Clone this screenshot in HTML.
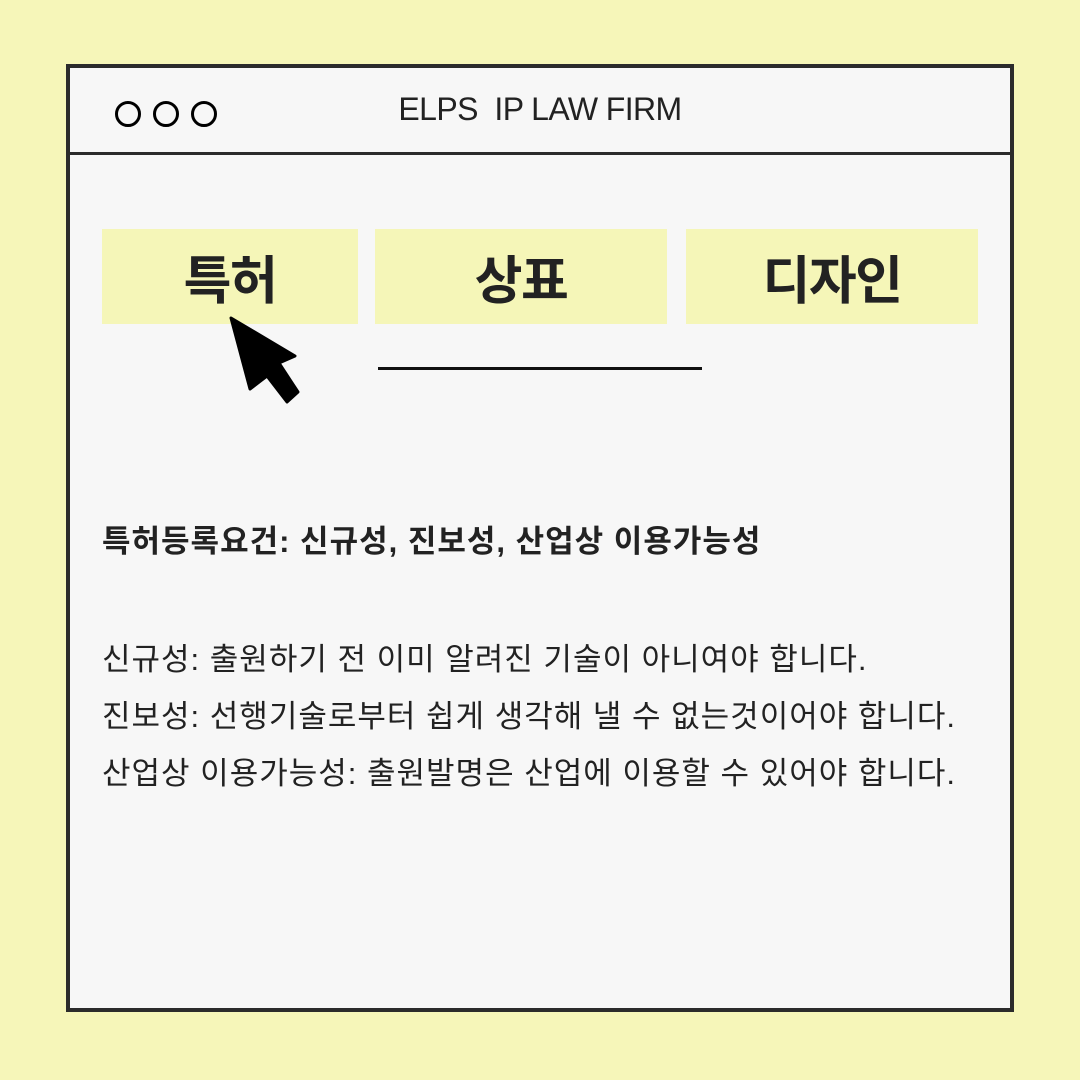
<!DOCTYPE html>
<html><head><meta charset="utf-8"><style>
html,body{margin:0;padding:0}
body{width:1080px;height:1080px;background:#f6f6b9;position:relative;overflow:hidden;font-family:"Liberation Sans","Noto Sans CJK KR",sans-serif;color:#222}
.win{position:absolute;left:66px;top:64px;width:940px;height:940px;border:4px solid #2b2b2b;background:#f7f7f7}
.hdr{position:absolute;left:0;top:0;width:940px;height:84px;border-bottom:3px solid #2b2b2b}
.c{position:absolute;top:33px;width:20px;height:20px;border:3.5px solid #000;border-radius:50%}
.title{position:absolute;left:0;width:940px;top:23px;text-align:center;font-size:32px;letter-spacing:-0.6px;color:#222}
.tab{position:absolute;top:229px;height:95px;background:#f5f6b8;font-weight:bold;font-size:52px;display:flex;align-items:center;justify-content:center;letter-spacing:-1.5px;color:#222}
.t{position:absolute;left:102px;font-size:31px;letter-spacing:1px;white-space:nowrap;color:#222}
</style></head><body>
<div class="win">
 <div class="hdr">
  <div class="c" style="left:45px"></div>
  <div class="c" style="left:83px"></div>
  <div class="c" style="left:121px"></div>
  <div class="title">ELPS&nbsp; IP LAW FIRM</div>
 </div>
</div>
<div class="tab" style="left:102px;width:256px">특허</div>
<div class="tab" style="left:375px;width:292px">상표</div>
<div class="tab" style="left:686px;width:292px">디자인</div>
<div style="position:absolute;left:378px;top:367px;width:324px;height:3px;background:#111"></div>
<svg style="position:absolute;left:0;top:0" width="1080" height="1080"><polygon points="231,318 295,356 279,363 298,392 287,402 267,376 250,389" fill="#000" stroke="#000" stroke-width="3" stroke-linejoin="round"/></svg>
<div class="t" style="top:516px;font-weight:bold">특허등록요건: 신규성, 진보성, 산업상 이용가능성</div>
<div class="t" style="top:634px">신규성: 출원하기 전 이미 알려진 기술이 아니여야 합니다.</div>
<div class="t" style="top:691px">진보성: 선행기술로부터 쉽게 생각해 낼 수 없는것이어야 합니다.</div>
<div class="t" style="top:748px">산업상 이용가능성: 출원발명은 산업에 이용할 수 있어야 합니다.</div>
</body></html>
